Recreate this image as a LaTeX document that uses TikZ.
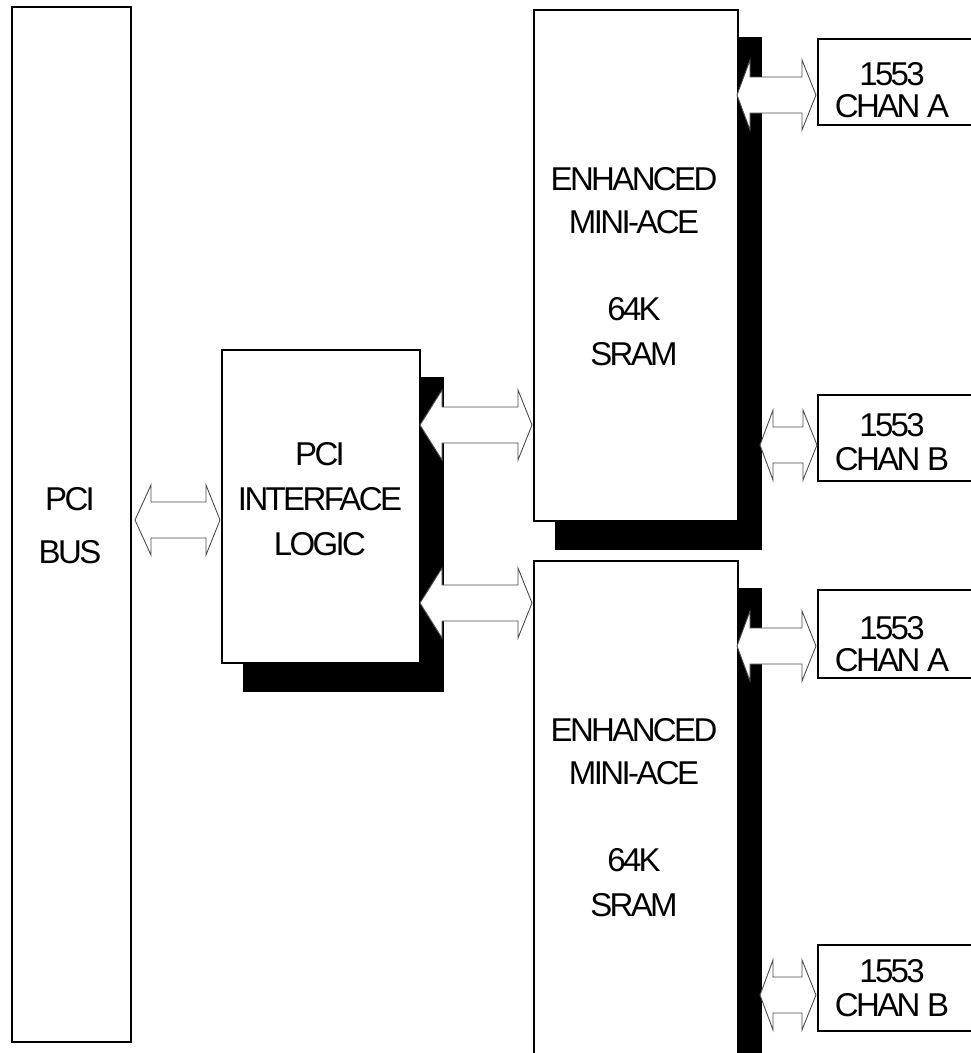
\documentclass[tikz,border=0pt]{standalone}
\usepackage{fontspec}
\setmainfont{Liberation Sans}[LetterSpace=-8]
\usetikzlibrary{backgrounds}
\newcommand{\blockarrow}[5]{% left x, right x, centre y, left head length, right head length
  \draw[barrow] (#1,#3) -- ({#1+#4},{#3-35}) -- ({#1+#4},{#3-18}) -- ({#2-#5},{#3-18})
    -- ({#2-#5},{#3-35}) -- (#2,#3) -- ({#2-#5},{#3+35}) -- ({#2-#5},{#3+18})
    -- ({#1+#4},{#3+18}) -- ({#1+#4},{#3+35}) -- cycle;}
\begin{document}
\begin{tikzpicture}[x=1pt,y=-1pt,
  box/.style={draw=black,line width=2.2pt,fill=white,anchor=north west,inner sep=0pt},
  shade/.style={fill=black},
  barrow/.style={draw=black!70,line width=0.9pt,fill=white,line join=miter},
  lbl/.style={font=\fontsize{33}{33}\selectfont,anchor=base,inner sep=0pt}]
\useasboundingbox (0,0) rectangle (970,1053);
% boxes
\node[box,minimum width=119pt,minimum height=1035pt] (bus) at (11,6) {};
\node[box,minimum width=198pt,minimum height=313pt] (pci) at (221,349) {};
\node[box,minimum width=204pt,minimum height=511pt] (aceA) at (533,9) {};
\node[box,minimum width=204pt,minimum height=530pt] (aceB) at (533,560) {};
\node[box,minimum width=160pt,minimum height=86pt] (chA1) at (817,38) {};
\node[box,minimum width=160pt,minimum height=86pt] (chB1) at (817,394) {};
\node[box,minimum width=160pt,minimum height=88pt] (chA2) at (817,589) {};
\node[box,minimum width=160pt,minimum height=86pt] (chB2) at (817,944) {};
% shadows
\begin{scope}[on background layer]
\foreach \b in {pci,aceA,aceB}
  \fill[shade] ([shift={(22,28)}]\b.south west) rectangle ([shift={(23,28)}]\b.north east);
\end{scope}
% block arrows
\blockarrow{135}{220}{520}{16}{14}
\blockarrow{420}{532}{425}{22}{14}
\blockarrow{420}{532}{603}{22}{14}
\blockarrow{737}{816}{95}{13}{14}
\blockarrow{760}{817}{445}{13}{14}
\blockarrow{737}{816}{646}{13}{14}
\blockarrow{760}{816}{995}{13}{14}
% labels
\node[lbl] (t1) at (70,510) {PCI};
\node[lbl] (t2) at (70,563) {BUS};
\node[lbl] (t3) at (320,465) {PCI};
\node[lbl] (t4) at (320,510) {INTERFACE};
\node[lbl] (t5) at (320,555) {LOGIC};
\node[lbl] (t6) at (634,190) {ENHANCED};
\node[lbl] (t7) at (634,233) {MINI-ACE};
\node[lbl] (t8) at (634,320) {64K};
\node[lbl] (t9) at (634,365) {SRAM};
\node[lbl] (t10) at (634,741) {ENHANCED};
\node[lbl] (t11) at (634,784) {MINI-ACE};
\node[lbl] (t12) at (634,871) {64K};
\node[lbl] (t13) at (634,916) {SRAM};
\node[lbl] (t14) at (892,85) {1553};
\node[lbl] (t15) at (892,117) {CHAN A};
\node[lbl] (t16) at (892,436) {1553};
\node[lbl] (t17) at (892,470) {CHAN B};
\node[lbl] (t18) at (892,639) {1553};
\node[lbl] (t19) at (892,671) {CHAN A};
\node[lbl] (t20) at (892,982) {1553};
\node[lbl] (t21) at (892,1016) {CHAN B};
\end{tikzpicture}
\end{document}
